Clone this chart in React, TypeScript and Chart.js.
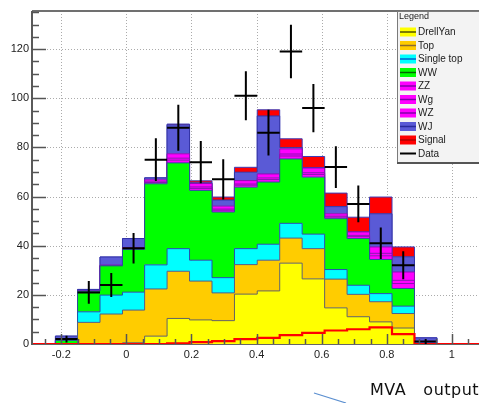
import React, { useEffect, useRef } from 'react';
import { Chart, registerables } from 'chart.js';

Chart.register(...registerables);

// ---- data (17 bins of MVA output) ----
const binEdges = [-0.218, -0.150, -0.081, -0.012, 0.056, 0.125, 0.194, 0.263, 0.332, 0.402, 0.471, 0.540, 0.609, 0.678, 0.747, 0.816, 0.885, 0.954];

const drellYan = [0, 0, 0, 0.5, 3.2, 10.4, 9.8, 9.5, 20.3, 21.6, 32.9, 26.5, 14.7, 11.1, 9.0, 6.5, 0];
const topQuark = [0, 8.8, 12.2, 13.3, 19.2, 19.2, 15.8, 11.3, 12.0, 12.5, 10.2, 12.3, 11.7, 9.1, 8.2, 5.9, 0];
const singleTop = [0, 4.3, 7.7, 7.3, 9.8, 9.2, 8.5, 6.2, 6.5, 6.5, 6.0, 5.9, 3.9, 3.7, 3.3, 3.0, 0];
const ww = [1.5, 8.4, 11.9, 17.4, 33.0, 34.9, 28.4, 26.7, 25.0, 25.3, 26.2, 23.2, 20.7, 19.0, 13.9, 7.2, 0];
const zz = [0, 0, 0.1, 0.2, 0.5, 1.1, 0.8, 0.7, 0.8, 1.0, 1.2, 1.1, 0.6, 0.8, 1.5, 2.0, 0];
const wg = [0, 0, 0.1, 0.1, 0.3, 0.8, 0.6, 0.5, 0.5, 0.7, 0.8, 0.7, 0.4, 0.5, 1.0, 1.3, 0];
const wz = [0, 0, 0.1, 0.4, 0.8, 1.8, 1.4, 1.2, 1.4, 1.6, 2.1, 1.9, 1.0, 1.4, 2.6, 3.4, 0];
const wj = [1.7, 0.7, 3.3, 3.7, 0.8, 11.8, 0.3, 2.5, 3.4, 23.6, 0.5, 0.2, 2.9, 0, 13.5, 6.2, 2.5];
const signal = [0, 0, 0, 0, 0, 0.3, 0.8, 1.2, 2.0, 2.5, 3.6, 4.5, 5.5, 6.0, 6.8, 4.0, 0];

const dataCounts = [2, 21, 24, 39, 75, 88, 74, 67, 101, 86, 119, 96, 72, 57, 41, 32, 1];
const dataErrors = [1.4, 4.6, 4.9, 6.2, 8.7, 9.4, 8.6, 8.2, 10.0, 9.3, 10.9, 9.8, 8.5, 7.5, 6.4, 5.7, 1.0];

const seriesNames = ['DrellYan', 'Top', 'Single top', 'WW', 'ZZ', 'Wg', 'WZ', 'WJ', 'Signal'];

const xTicks = [-0.2, 0, 0.2, 0.4, 0.6, 0.8, 1];
const yTicks = [0, 20, 40, 60, 80, 100, 120];

const X_MIN = -0.29;
const X_MAX = 1.2;
const Y_MIN = 0;
const Y_MAX = 135.5;

// ---- styles ----
const fillColors = ['#ffff00', '#ffcc00', '#00ffff', '#00ff00', '#ff00ff', '#ff00ff', '#ff00ff', '#5a5ad6', '#ff0000'];
const lineColors = ['#626262', '#4e5e8c', '#2450ac', '#2c4c9c', '#8a10b4', '#8a10b4', '#8a10b4', '#3434a8', '#3c3cb8'];
const legendLineColors = ['#505000', '#8a6a30', '#0060d0', '#006400', '#8000a8', '#8000a8', '#8000a8', '#2a2a9a', '#b00000'];

const CANVAS_W = 540;
const CANVAS_H = 403;
const FONT = "'Liberation Sans', Arial, sans-serif";

function fmtTick(v: number) {
  const r = Math.round(v * 10) / 10;
  return String(r);
}

const frameTicksPlugin = {
  id: 'rootFrame',
  beforeDatasetsDraw(chart: any) {
    const { ctx, chartArea: a, scales } = chart;
    const x = scales.x;
    const y = scales.y;
    ctx.save();
    ctx.strokeStyle = '#ababab';
    ctx.lineWidth = 1;
    ctx.setLineDash([1, 2]);
    xTicks.forEach((v) => {
      const px = Math.round(x.getPixelForValue(v)) + 0.5;
      ctx.beginPath();
      ctx.moveTo(px, a.top);
      ctx.lineTo(px, a.bottom);
      ctx.stroke();
    });
    yTicks.forEach((v) => {
      if (v === 0) return;
      const py = Math.round(y.getPixelForValue(v)) + 0.5;
      ctx.beginPath();
      ctx.moveTo(a.left, py);
      ctx.lineTo(a.right, py);
      ctx.stroke();
    });
    ctx.setLineDash([]);
    ctx.strokeStyle = '#666666';
    ctx.lineWidth = 2;
    ctx.beginPath();
    ctx.moveTo(a.left, a.bottom);
    ctx.lineTo(a.right, a.bottom);
    ctx.stroke();
    ctx.restore();
  },
  afterDatasetsDraw(chart: any) {
    const { ctx, chartArea: a, scales } = chart;
    const x = scales.x;
    const y = scales.y;
    ctx.save();
    // frame lines
    ctx.strokeStyle = '#707070';
    ctx.lineWidth = 2;
    ctx.beginPath();
    ctx.moveTo(a.left, a.top);
    ctx.lineTo(a.right, a.top);
    ctx.stroke();
    ctx.strokeStyle = '#5a5a5a';
    ctx.beginPath();
    ctx.moveTo(a.left, a.top);
    ctx.lineTo(a.left, a.bottom + 1);
    ctx.stroke();
    // tick marks (inside the frame)
    ctx.strokeStyle = '#555555';
    ctx.lineWidth = 1.5;
    for (let k = -5; k <= 24; k++) {
      const v = k * 0.05;
      if (v < X_MIN || v > X_MAX) continue;
      const major = k % 4 === 0;
      const px = Math.round(x.getPixelForValue(v)) + 0.5;
      ctx.beginPath();
      ctx.moveTo(px, a.bottom);
      ctx.lineTo(px, a.bottom - (major ? 10 : 5));
      ctx.stroke();
    }
    for (let k = 1; k * 5 <= Y_MAX; k++) {
      const v = k * 5;
      const major = k % 4 === 0;
      const py = Math.round(y.getPixelForValue(v)) + 0.5;
      ctx.beginPath();
      ctx.moveTo(a.left, py);
      ctx.lineTo(a.left + (major ? 14 : 7), py);
      ctx.stroke();
    }
    ctx.restore();
  },
  afterDraw(chart: any) {
    const { ctx, chartArea: a } = chart;
    const bx = 397;
    const by = a.top;
    const bw = 130;
    const bh = 151;
    ctx.save();
    ctx.fillStyle = '#f3f3f3';
    ctx.fillRect(bx, by, bw, bh);
    ctx.strokeStyle = '#7a7a7a';
    ctx.lineWidth = 1;
    ctx.strokeRect(bx + 0.5, by + 0.5, bw, bh);
    ctx.strokeStyle = '#555555';
    ctx.lineWidth = 2;
    ctx.beginPath();
    ctx.moveTo(bx, by + bh + 1);
    ctx.lineTo(bx + bw, by + bh + 1);
    ctx.stroke();
    ctx.fillStyle = '#222';
    ctx.font = `9px ${FONT}`;
    ctx.textBaseline = 'middle';
    ctx.textAlign = 'left';
    ctx.fillText('Legend', bx + 2, by + 6);
    const entries = seriesNames.map((name, i) => ({ name, fill: fillColors[i], line: legendLineColors[i] as string | null }));
    entries.push({ name: 'Data', fill: '', line: '#000000' });
    entries.forEach((e, i) => {
      const cy = by + 21 + i * 13.5;
      if (e.fill) {
        ctx.fillStyle = e.fill;
        ctx.fillRect(bx + 3, cy - 4.5, 16, 9);
      }
      ctx.strokeStyle = e.line;
      ctx.lineWidth = e.name === 'Data' ? 2 : 1.5;
      ctx.beginPath();
      ctx.moveTo(bx + 3, cy);
      ctx.lineTo(bx + 19, cy);
      ctx.stroke();
      ctx.fillStyle = '#1a1a1a';
      ctx.font = `10px ${FONT}`;
      ctx.fillText(e.name, bx + 21, cy + 0.5);
    });
    ctx.restore();
  },
};

export default function App() {
  const canvasRef = useRef<HTMLCanvasElement | null>(null);

  useEffect(() => {
    if (!canvasRef.current) return;
    const n = dataCounts.length;
    const components = [drellYan, topQuark, singleTop, ww, zz, wg, wz, wj, signal];
    const cumulative: number[][] = [];
    let running = new Array(n).fill(0);
    components.forEach((c) => {
      running = running.map((v: number, i: number) => v + c[i]);
      cumulative.push(running);
    });

    const stepPoints = (vals: number[]) => {
      const pts: { x: number; y: number }[] = [{ x: binEdges[0], y: 0 }];
      vals.forEach((v, i) => pts.push({ x: binEdges[i], y: v }));
      pts.push({ x: binEdges[n], y: 0 });
      return pts;
    };

    const stackSets = cumulative.map((vals, k) => ({
      label: seriesNames[k],
      data: stepPoints(vals),
      stepped: true,
      fill: k === 0 ? 'origin' : '-1',
      backgroundColor: fillColors[k],
      borderColor: lineColors[k],
      borderWidth: 1,
      pointRadius: 0,
      order: 0,
    }));

    const signalLine: { x: number; y: number }[] = [{ x: X_MIN, y: 0 }];
    signal.forEach((v, i) => signalLine.push({ x: binEdges[i], y: v }));
    signalLine.push({ x: binEdges[n], y: 0 });
    signalLine.push({ x: X_MAX, y: 0 });

    const errPoints: { x: number; y: number | null }[] = [];
    dataCounts.forEach((d, i) => {
      const lo = binEdges[i];
      const hi = binEdges[i + 1];
      const mid = (lo + hi) / 2;
      errPoints.push({ x: lo, y: d }, { x: hi, y: d }, { x: hi, y: null });
      errPoints.push({ x: mid, y: d - dataErrors[i] }, { x: mid, y: d + dataErrors[i] }, { x: mid, y: null });
    });

    const chart = new Chart(canvasRef.current, {
      type: 'line',
      data: {
        datasets: [
          ...stackSets,
          {
            label: 'Signal line',
            data: signalLine,
            stepped: true,
            fill: false,
            borderColor: '#ff0000',
            borderWidth: 2.2,
            pointRadius: 0,
            order: -1,
          },
          {
            label: 'Data',
            data: errPoints,
            fill: false,
            spanGaps: false,
            borderColor: '#000000',
            borderWidth: 2,
            pointRadius: 0,
            order: -2,
          },
        ] as any,
      },
      options: {
        animation: false,
        responsive: false,
        maintainAspectRatio: false,
        events: [],
        layout: { padding: { left: 0, top: 11, right: CANVAS_W - 517, bottom: 0 } },
        plugins: {
          legend: { display: false },
          tooltip: { enabled: false },
        },
        scales: {
          x: {
            type: 'linear',
            min: X_MIN,
            max: X_MAX,
            grid: { display: false, drawTicks: false },
            border: { display: false },
            afterBuildTicks: (s: any) => {
              s.ticks = xTicks.map((v) => ({ value: v }));
            },
            afterFit: (s: any) => {
              s.height = 59;
            },
            ticks: {
              autoSkip: false,
              maxRotation: 0,
              minRotation: 0,
              padding: 4,
              color: '#222222',
              font: { family: FONT, size: 11 },
              callback: (v: any) => fmtTick(Number(v)),
            },
          },
          y: {
            type: 'linear',
            min: Y_MIN,
            max: Y_MAX,
            grid: { display: false, drawTicks: false },
            border: { display: false },
            afterBuildTicks: (s: any) => {
              s.ticks = yTicks.map((v) => ({ value: v }));
            },
            afterFit: (s: any) => {
              s.width = 32;
            },
            ticks: {
              autoSkip: false,
              padding: 3,
              color: '#222222',
              font: { family: FONT, size: 11 },
              callback: (v: any) => fmtTick(Number(v)),
            },
          },
        },
      } as any,
      plugins: [frameTicksPlugin],
    });
    return () => chart.destroy();
  }, []);

  return (
    <div
      style={{
        position: 'fixed',
        left: 0,
        top: 0,
        width: 479,
        height: 403,
        overflow: 'hidden',
        background: '#ffffff',
      }}
    >
      <canvas ref={canvasRef} width={CANVAS_W} height={CANVAS_H} style={{ display: 'block' }} />
      <div
        style={{
          position: 'absolute',
          left: 370,
          top: 382,
          fontFamily: "'DejaVu Sans', Verdana, sans-serif",
          fontSize: 16,
          lineHeight: '16px',
          whiteSpace: 'pre',
          wordSpacing: 3,
          letterSpacing: 0.5,
          color: '#111',
        }}
      >
        MVA  output
      </div>
      <svg
        width={479}
        height={403}
        style={{ position: 'absolute', left: 0, top: 0, pointerEvents: 'none' }}
      >
        <line x1={314} y1={393} x2={346} y2={403} stroke="#5b8fd0" strokeWidth={1.2} />
      </svg>
    </div>
  );
}
